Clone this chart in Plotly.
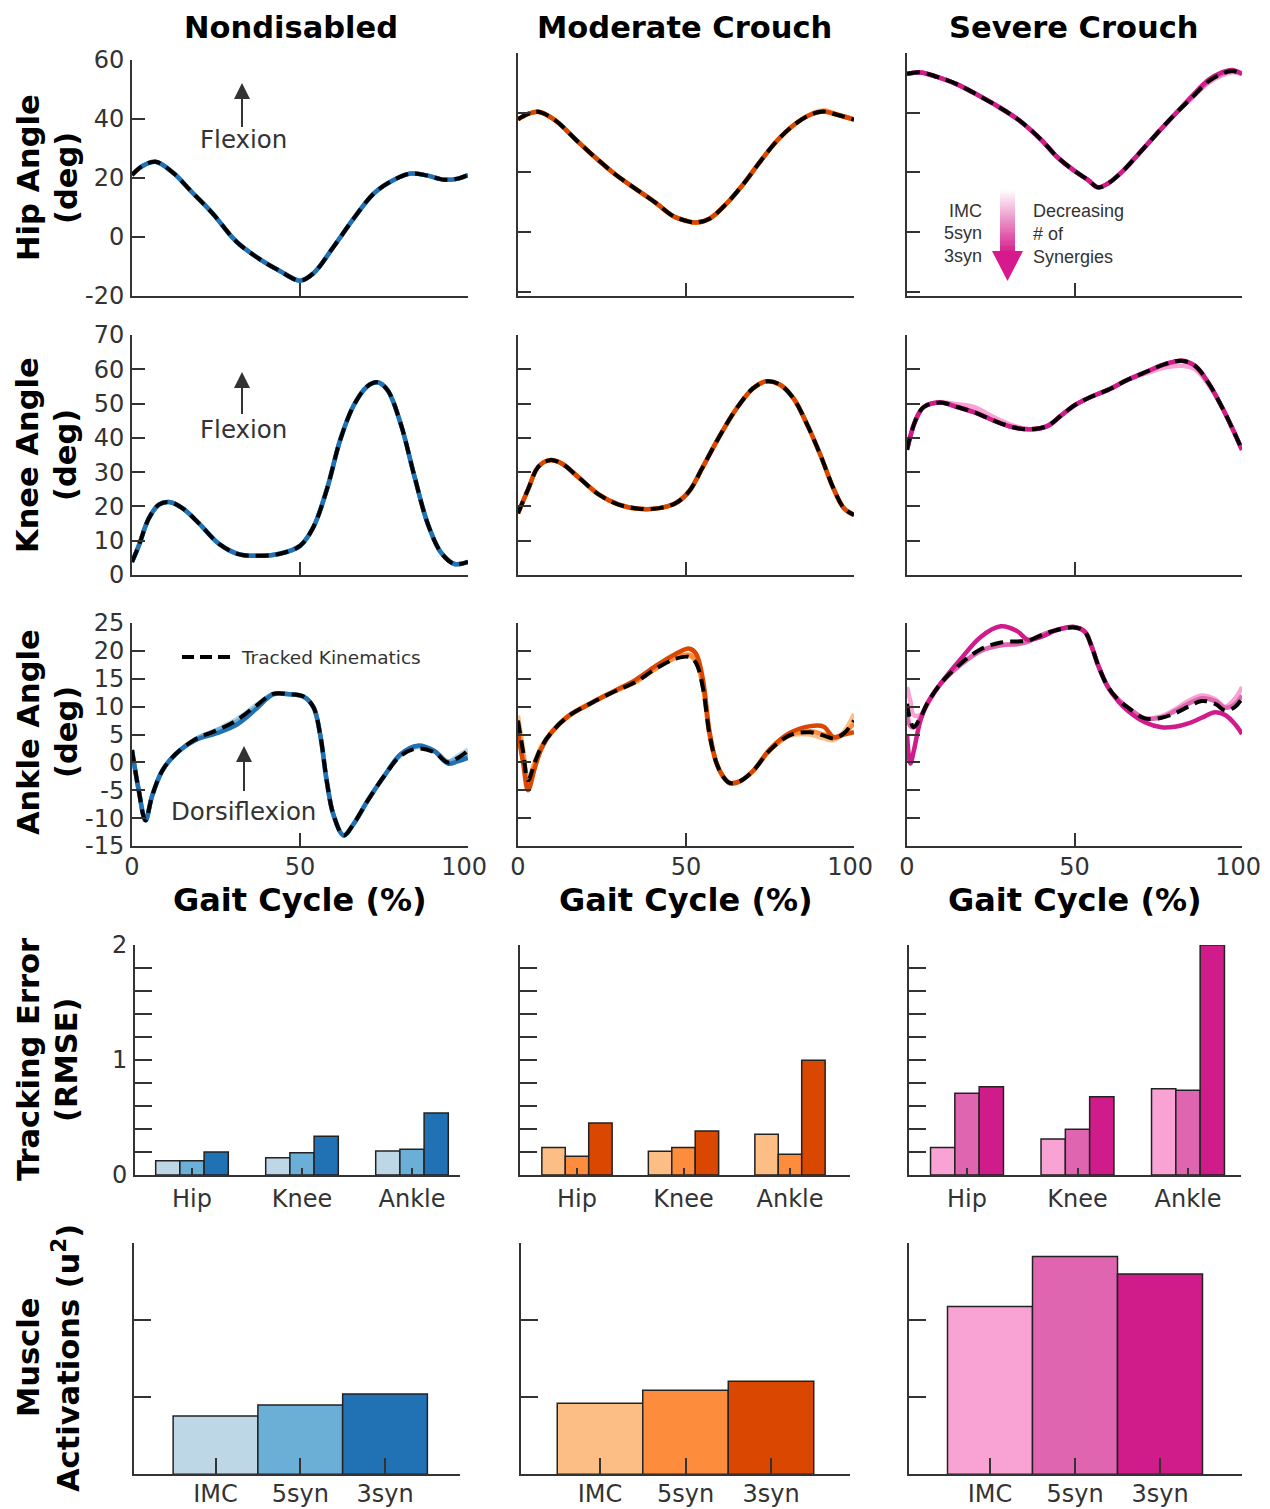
import plotly.graph_objects as go

# ---------------- data ----------------
methods = ["IMC", "5syn", "3syn"]
joints = ["Hip", "Knee", "Ankle"]
groups = ["Nondisabled", "Moderate Crouch", "Severe Crouch"]

blues = ["#bdd7e7", "#6baed6", "#2171b5"]
oranges = ["#fdbe85", "#fd8d3c", "#d94701"]
pinks = ["#f9a3d4", "#df65b0", "#d01c8b"]

# Nondisabled
nd_hip_x = [0, 3, 7, 12, 18, 24, 31, 38, 44, 50, 54, 60, 66, 72, 78, 83, 88, 93, 97, 100]
nd_hip_track = [21, 24, 25.5, 22, 15, 8, -1.5, -7.5, -11.5, -14.8, -12.3, -3.3, 6.3, 14.8, 19.4, 21.5, 20.8, 19.4, 19.8, 21]
nd_hip_imc = [21, 24, 25.5, 22, 15, 8, -1.5, -7.5, -11.5, -14.8, -12.3, -3.3, 6.3, 14.8, 19.4, 21.5, 20.8, 19.4, 19.8, 21]
nd_hip_5syn = [21, 24, 25.5, 22, 15, 8, -1.5, -7.5, -11.5, -14.8, -12.3, -3.3, 6.3, 14.8, 19.4, 21.5, 20.8, 19.4, 19.8, 21]
nd_hip_3syn = [21, 24, 25.5, 22, 15, 8, -1.5, -7.5, -11.5, -14.8, -12.3, -3.3, 6.3, 14.8, 19.4, 21.5, 20.8, 19.4, 19.8, 21]

nd_knee_x = [0, 2, 5, 8, 11, 15, 20, 26, 32, 38, 44, 50, 54, 58, 62, 66, 70, 73, 76, 80, 84, 88, 92, 96, 100]
nd_knee_track = [3.8, 8.5, 16.5, 20.5, 21.3, 19.5, 15, 9, 6, 5.6, 6.2, 8.5, 14, 25, 39.5, 49.5, 55, 56.2, 54, 44, 29, 15, 6.5, 3.2, 3.8]
nd_knee_imc = [3.8, 8.5, 16.5, 20.5, 21.3, 19.5, 15, 9, 6, 5.6, 6.2, 8.5, 14, 25, 39.5, 49.5, 55, 56.2, 54, 44, 29, 15, 6.5, 3.2, 3.8]
nd_knee_5syn = [3.8, 8.5, 16.5, 20.5, 21.3, 19.5, 15, 9, 6, 5.6, 6.2, 8.5, 14, 25, 39.5, 49.5, 55, 56.2, 54, 44, 29, 15, 6.5, 3.2, 3.8]
nd_knee_3syn = [3.8, 8.5, 16.5, 20.5, 21.3, 19.5, 15, 9, 6, 5.6, 6.2, 8.5, 14, 25, 39.5, 49.5, 55, 56.2, 54, 44, 29, 15, 6.5, 3.2, 3.8]

nd_ank_x = [0, 2, 4, 6, 9, 13, 19, 25, 31, 37, 42, 47, 51, 54, 56, 58, 60, 63, 66, 70, 75, 80, 85, 90, 94, 97, 100]
nd_ank_track = [2.2, -5, -10.4, -6, -1.5, 1.5, 4.2, 5.7, 7.5, 10.2, 12.3, 12.2, 11.8, 9.9, 5, -3.5, -9.5, -13.1, -11, -7, -2.5, 1.2, 2.5, 1.8, 0, 0.8, 2.1]
nd_ank_imc = [2.2, -5, -10.4, -6, -1.5, 1.5, 4.2, 5.8, 7.7, 10.3, 12.3, 12.2, 11.8, 9.9, 5, -3.5, -9.5, -13.1, -11, -7, -2.5, 1.3, 2.7, 2.0, 0.2, 1.2, 2.3]
nd_ank_5syn = [2.2, -5, -10.4, -6, -1.5, 1.5, 4.2, 5.7, 7.3, 10.0, 12.3, 12.2, 11.8, 9.9, 5, -3.5, -9.5, -13.1, -11, -7, -2.5, 1.4, 2.9, 2.1, 0.1, 0.8, 1.6]
nd_ank_3syn = [2.2, -5, -10.4, -6, -1.5, 1.5, 4.0, 5.2, 6.7, 9.6, 12.2, 12.2, 11.8, 9.9, 5, -3.5, -9.5, -13.1, -11, -7, -2.5, 1.5, 3.0, 2.0, -0.2, 0.2, 0.8]

# Moderate crouch
md_hip_x = [0, 3, 6, 11, 17, 23, 29, 35, 41, 46, 50, 53, 57, 62, 67, 72, 77, 82, 87, 91, 95, 100]
md_hip_track = [37.8, 39.6, 40.3, 37.5, 31.2, 25, 19.3, 14.5, 9.8, 5.5, 3.8, 3.2, 4.5, 9.5, 16, 23.5, 30.5, 35.8, 39.3, 40.4, 39.3, 37.7]
md_hip_imc = [37.8, 39.6, 40.3, 37.5, 31.2, 25, 19.3, 14.5, 9.8, 5.5, 3.8, 3.2, 4.5, 9.5, 16, 23.5, 30.5, 35.8, 39.5, 40.8, 39.5, 37.7]
md_hip_5syn = [37.8, 39.6, 40.3, 37.5, 31.2, 25, 19.3, 14.5, 9.8, 5.5, 3.8, 3.2, 4.5, 9.5, 16, 23.5, 30.5, 35.8, 39.3, 40.4, 39.3, 37.7]
md_hip_3syn = [37.8, 39.6, 40.3, 37.5, 31.2, 25, 19.3, 14.5, 9.8, 5.5, 3.8, 3.2, 4.5, 9.5, 16, 23.5, 30.5, 35.8, 39.3, 40.4, 39.3, 37.7]

md_knee_x = [0, 3, 6, 9.5, 13, 18, 24, 30, 36, 42, 47, 51, 55, 60, 65, 70, 74, 78, 82, 86, 90, 94, 97, 100]
md_knee_track = [18, 25, 31.5, 33.5, 32.5, 28.5, 23.5, 20.5, 19.3, 19.5, 21, 24.5, 31.5, 40.5, 48.5, 54.5, 56.5, 55.5, 51.5, 44, 35, 25, 19.5, 17.5]
md_knee_imc = [18, 25, 31.5, 33.5, 32.5, 28.5, 23.5, 20.5, 19.3, 19.5, 21, 24.5, 31.5, 40.5, 48.5, 54.5, 56.5, 55.5, 51.5, 44, 35, 25, 19.5, 17.5]
md_knee_5syn = [18, 25, 31.5, 33.5, 32.5, 28.5, 23.5, 20.5, 19.3, 19.5, 21, 24.5, 31.5, 40.5, 48.5, 54.5, 56.5, 55.5, 51.5, 44, 35, 25, 19.5, 17.5]
md_knee_3syn = [18, 25, 31.5, 33.5, 32.5, 28.5, 23.5, 20.5, 19.3, 19.5, 21, 24.5, 31.5, 40.5, 48.5, 54.5, 56.5, 55.5, 51.5, 44, 35, 25, 19.5, 17.5]

md_ank_x = [0, 1.5, 3, 5, 7, 10, 15, 22, 29, 35, 41, 47, 51, 53, 55, 57, 59, 61, 63, 66, 70, 75, 81, 87, 91, 94, 97, 100]
md_ank_track = [7.5, 2, -3.2, 0, 2.8, 5.4, 8.3, 10.7, 12.8, 14.4, 16.8, 18.6, 18.9, 17.8, 13.5, 5, 0, -2.5, -3.7, -3.4, -1.5, 2.2, 4.9, 5.4, 4.8, 4.3, 5.2, 7.5]
md_ank_imc = [8.4, 2.5, -3.0, 0.2, 2.9, 5.5, 8.4, 10.8, 12.9, 14.6, 17.0, 18.8, 19.1, 18.0, 13.7, 5, 0, -2.5, -3.7, -3.4, -1.5, 2.2, 4.8, 5.0, 4.3, 4.0, 5.5, 8.7]
md_ank_5syn = [7.0, 1.5, -3.5, -0.2, 2.8, 5.4, 8.3, 10.7, 12.8, 14.4, 16.8, 18.8, 19.3, 18.2, 13.8, 5, 0, -2.5, -3.7, -3.4, -1.5, 2.2, 4.9, 5.6, 5.0, 4.5, 5.2, 7.0]
md_ank_3syn = [5.1, 0, -5, -1, 2.5, 5.4, 8.3, 10.7, 12.9, 14.8, 17.3, 19.5, 20.4, 19.5, 15, 5.5, 0, -2.5, -3.7, -3.4, -1.5, 2.4, 5.3, 6.5, 6.4, 4.5, 5.0, 5.4]

# Severe crouch
sv_hip_x = [0, 4, 9, 15, 21, 28, 34, 40, 45, 50, 54, 57, 60, 64, 69, 75, 80, 85, 90, 94, 97, 100]
sv_hip_track = [53, 53.5, 52, 49.5, 46, 41.5, 37, 31, 25, 20.5, 17.5, 15, 16.3, 20, 26, 33.5, 39.5, 45, 50.5, 53, 54, 53]
sv_hip_imc = [53, 53.5, 52, 49.5, 46, 41.5, 37, 31, 25, 20.5, 17.5, 15, 16.3, 20, 26, 33.5, 39.5, 45, 50, 52.5, 53.5, 53]
sv_hip_5syn = [53, 53.5, 52, 49.5, 46, 41.5, 37, 31, 25, 20.5, 17.5, 15, 16.3, 20, 26, 33.5, 39.5, 45, 50.5, 53, 54, 53]
sv_hip_3syn = [53, 53.5, 52, 49.5, 46, 41.5, 37, 31, 25, 20.5, 17.5, 15, 16.3, 20, 26, 33.5, 39.5, 45.5, 51, 53.5, 54.3, 53]

sv_knee_x = [0, 2.5, 5, 10, 15, 20, 26, 32, 37, 42, 46, 50, 55, 60, 66, 72, 77, 82, 86, 90, 94, 97, 100]
sv_knee_track = [36.5, 45, 49, 50.3, 49, 47.5, 45, 43, 42.5, 43.5, 46.5, 49.5, 52, 54, 57, 59.5, 61.5, 62.5, 61, 56, 49, 43, 36.5]
sv_knee_imc = [36.5, 45, 49, 50.3, 49.8, 49, 46, 43.5, 42.5, 43.5, 46.5, 49.5, 52, 54, 57, 59, 60.5, 61, 60, 55.5, 49, 43, 36.5]
sv_knee_5syn = [36.5, 45, 49, 50.3, 49, 47.5, 45, 43, 42.5, 43.5, 46.5, 49.5, 52, 54, 57, 59.5, 61.5, 62.5, 61, 56, 49, 43, 36.5]
sv_knee_3syn = [36.5, 45, 49, 50.3, 49, 47.5, 45, 43, 42.5, 43.5, 46.5, 49.5, 52, 54, 57, 59.5, 61.5, 62.5, 61, 56, 49, 43, 36.5]

sv_ank_x = [0, 1, 2, 4, 6, 10, 16, 22, 28, 33, 36, 40, 45, 50, 53, 55, 57, 60, 63, 66, 71, 76, 80, 84, 88, 92, 95, 98, 100]
sv_ank_track = [10.5, 7.5, 6.3, 8, 10.5, 14.1, 17.7, 20.3, 21.5, 21.7, 21.8, 22.8, 23.8, 24.2, 23.5, 21, 17.5, 13.5, 11.3, 9.8, 7.9, 8, 8.8, 10, 11, 10.5, 9.3, 10, 11.5]
sv_ank_imc = [13.5, 11, 8.5, 8.5, 10.3, 14, 17.5, 20, 21, 21.3, 21.7, 22.8, 23.8, 24.2, 23.5, 21, 17.5, 13.5, 11.3, 9.8, 7.9, 8.3, 9.5, 11, 12, 11.3, 10, 11.5, 13.5]
sv_ank_5syn = [9, 6.5, 6.3, 8, 10.5, 14.1, 17.5, 20, 21, 21.2, 21.6, 22.8, 23.8, 24.2, 23.5, 21, 17.5, 13.5, 11.3, 9.8, 7.9, 8.1, 9.2, 10.5, 11.5, 11, 9.8, 10.5, 12]
sv_ank_3syn = [5.1, -0.2, 2, 7.5, 10.5, 14.1, 18.5, 22.5, 24.4, 23.5, 22, 22.5, 23.8, 24.3, 23.5, 21, 17.5, 13.5, 11, 9.2, 7.2, 6.3, 6.4, 7, 8, 9, 8.5, 6.8, 5.1]

# Tracking error (RMSE); each list = [Hip, Knee, Ankle]
nd_rmse_imc = [0.124, 0.15, 0.209]
nd_rmse_5syn = [0.124, 0.194, 0.223]
nd_rmse_3syn = [0.20, 0.336, 0.54]
md_rmse_imc = [0.24, 0.206, 0.354]
md_rmse_5syn = [0.163, 0.24, 0.18]
md_rmse_3syn = [0.452, 0.383, 0.997]
sv_rmse_imc = [0.24, 0.313, 0.75]
sv_rmse_5syn = [0.71, 0.397, 0.736]
sv_rmse_3syn = [0.768, 0.68, 2.0]

# Muscle activations (arbitrary units), [IMC, 5syn, 3syn]
nd_act = [0.757, 0.90, 1.043]
md_act = [0.922, 1.09, 1.21]
sv_act = [2.18, 2.83, 2.60]

# gait-cycle tick labels
gait_ticks = [0, 50, 100]
gait_text = ["0", "50", "100\u00a0"]

# ---------------- layout helpers ----------------
W, H, OFF = 1262, 1501, 8
FONT = "DejaVu Sans"
AX = "#333333"
TICK_SIZE = 24


def px(x):
    return (x - OFF) / W


def py(y):
    return 1 - (y - OFF) / H


fig = go.Figure()
axes = {}


def make_axes(i, xpx, ypx, xr, yr, xt, yt, xlab, ylab, xtl, ytl,
              xtext=None, ytext=None, xcat=False, yminor=None, xstand=0):
    xn = "xaxis" if i == 1 else f"xaxis{i}"
    yn = "yaxis" if i == 1 else f"yaxis{i}"
    xid = "x" if i == 1 else f"x{i}"
    yid = "y" if i == 1 else f"y{i}"
    tf = dict(family=FONT, size=TICK_SIZE, color=AX)
    xa = dict(domain=[px(xpx[0]), px(xpx[1])], range=xr, anchor=yid,
              showline=True, linecolor=AX, linewidth=2, ticks="inside",
              ticklen=xtl, tickwidth=2, tickcolor=AX, tickvals=xt,
              showticklabels=xlab, showgrid=False, zeroline=False,
              tickfont=tf, ticklabelstandoff=xstand, automargin=False,
              ticklabeloverflow="allow")
    if xtext is not None:
        xa["ticktext"] = xtext
    if xcat:
        xa["type"] = "category"
    ya = dict(domain=[py(ypx[1]), py(ypx[0])], range=yr, anchor=xid,
              showline=True, linecolor=AX, linewidth=2, ticks="inside",
              ticklen=ytl, tickwidth=2, tickcolor=AX, tickvals=yt,
              showticklabels=ylab, showgrid=False, zeroline=False,
              tickfont=tf, ticklabelstandoff=1, automargin=False,
              ticklabeloverflow="allow")
    if ytext is not None:
        ya["ticktext"] = ytext
    if yminor is not None:
        ya["minor"] = dict(dtick=yminor, tick0=0, ticks="inside", ticklen=ytl,
                           tickwidth=2, tickcolor=AX, showgrid=False)
    axes[xn] = xa
    axes[yn] = ya
    return xid, yid


col_x = [(132, 468), (518, 854), (907, 1242)]
kin_rows = [
    dict(ypx=[(60, 296), (53, 296), (53, 296)],
         yr=[[-20, 60], [-21.4, 60], [-21.4, 60]],
         yt=[-20, 0, 20, 40, 60]),
    dict(ypx=[(335, 575), (335, 575), (335, 575)],
         yr=[[0, 70], [0, 70], [0, 70]],
         yt=[0, 10, 20, 30, 40, 50, 60, 70]),
    dict(ypx=[(623, 846), (623, 846), (623, 846)],
         yr=[[-15, 25], [-15, 25], [-15, 25]],
         yt=[-15, -10, -5, 0, 5, 10, 15, 20, 25]),
]

kin_data = [
    [(nd_hip_x, nd_hip_imc, nd_hip_5syn, nd_hip_3syn, nd_hip_track),
     (md_hip_x, md_hip_imc, md_hip_5syn, md_hip_3syn, md_hip_track),
     (sv_hip_x, sv_hip_imc, sv_hip_5syn, sv_hip_3syn, sv_hip_track)],
    [(nd_knee_x, nd_knee_imc, nd_knee_5syn, nd_knee_3syn, nd_knee_track),
     (md_knee_x, md_knee_imc, md_knee_5syn, md_knee_3syn, md_knee_track),
     (sv_knee_x, sv_knee_imc, sv_knee_5syn, sv_knee_3syn, sv_knee_track)],
    [(nd_ank_x, nd_ank_imc, nd_ank_5syn, nd_ank_3syn, nd_ank_track),
     (md_ank_x, md_ank_imc, md_ank_5syn, md_ank_3syn, md_ank_track),
     (sv_ank_x, sv_ank_imc, sv_ank_5syn, sv_ank_3syn, sv_ank_track)],
]
palettes = [blues, oranges, pinks]

idx = 1
for r in range(3):
    for c in range(3):
        row = kin_rows[r]
        ytext = [str(v) for v in row["yt"]]
        xid, yid = make_axes(
            idx, col_x[c], row["ypx"][c], [0, 100], row["yr"][c],
            gait_ticks, row["yt"], r == 2, c == 0, 13, 13,
            xtext=gait_text, ytext=ytext, xstand=-2)
        xs, imc, s5, s3, tr = kin_data[r][c]
        for k, ys in enumerate([imc, s5, s3]):
            fig.add_trace(go.Scatter(
                x=xs, y=ys, mode="lines", xaxis=xid, yaxis=yid,
                line=dict(color=palettes[c][k], width=4.5, shape="spline", smoothing=1.0),
                showlegend=False, hoverinfo="skip"))
        fig.add_trace(go.Scatter(
            x=xs, y=tr, mode="lines", xaxis=xid, yaxis=yid,
            line=dict(color="black", width=4, dash="13px,7px", shape="spline", smoothing=1.0),
            showlegend=False, hoverinfo="skip"))
        idx += 1

# Tracking error bars
rmse = [(nd_rmse_imc, nd_rmse_5syn, nd_rmse_3syn),
        (md_rmse_imc, md_rmse_5syn, md_rmse_3syn),
        (sv_rmse_imc, sv_rmse_5syn, sv_rmse_3syn)]
bar4 = [dict(x=(135, 460), c0=192, sp=110),
        dict(x=(520, 850), c0=577, sp=106.5),
        dict(x=(909, 1241), c0=967, sp=110.5)]
for c in range(3):
    g = bar4[c]
    xr = [-(g["c0"] - g["x"][0]) / g["sp"], (g["x"][1] - g["c0"]) / g["sp"]]
    xid, yid = make_axes(idx, g["x"], (945, 1175), xr, [0, 2], joints,
                         [0, 1, 2], True, c == 0, 7, 17,
                         ytext=["0", "1", "2"], xcat=True, yminor=0.2, xstand=1)
    for k in range(3):
        fig.add_trace(go.Bar(
            x=joints, y=rmse[c][k], width=0.22, offset=-0.33 + 0.22 * k,
            marker=dict(color=palettes[c][k], line=dict(color="#222222", width=1.5)),
            xaxis=xid, yaxis=yid, showlegend=False, hoverinfo="skip"))
    idx += 1

# Muscle activation bars
acts = [nd_act, md_act, sv_act]
bar5 = [dict(x=(134, 460), c0=215.5, sp=84.75),
        dict(x=(520.7, 850), c0=600, sp=85.5),
        dict(x=(909, 1242), c0=990, sp=85)]
for c in range(3):
    g = bar5[c]
    xr = [-(g["c0"] - g["x"][0]) / g["sp"], (g["x"][1] - g["c0"]) / g["sp"]]
    xid, yid = make_axes(idx, g["x"], (1243.3, 1474.3), xr, [0, 3], methods,
                         [0, 1, 2, 3], True, False, 16, 17, xcat=True, xstand=-3)
    fig.add_trace(go.Bar(
        x=methods, y=acts[c], width=1.0, offset=-0.5,
        marker=dict(color=palettes[c], line=dict(color="#222222", width=1.5)),
        xaxis=xid, yaxis=yid, showlegend=False, hoverinfo="skip"))
    idx += 1

# ---------------- annotations ----------------
ann = []


def text(x, y, s, size, bold=False, color="#333333", family=FONT,
         xanchor="center", angle=0):
    ann.append(dict(x=px(x), y=py(y), xref="paper", yref="paper",
                    text=f"<b>{s}</b>" if bold else s, showarrow=False,
                    xanchor=xanchor, yanchor="middle", textangle=angle,
                    font=dict(family=family, size=size, color=color)))


for cx, t in zip([291, 684, 1073], groups):
    text(cx, 28, t, 30.5, bold=True, color="black")
for cx in [300, 686, 1075]:
    text(cx, 900, "Gait Cycle (%)", 32, bold=True, color="black")

ytitles = [(178, "Hip Angle", "(deg)"), (455, "Knee Angle", "(deg)"),
           (732, "Ankle Angle", "(deg)"), (1060, "Tracking Error", "(RMSE)"),
           (1358, "Muscle", "Activations (u<sup>2</sup>)")]
for yc, l1, l2 in ytitles:
    text(28, yc, l1, 30.5, bold=True, color="black", angle=-90)
    text(66, yc, l2, 30.5, bold=True, color="black", angle=-90)

text(243, 140, "Flexion", 24.5)
text(243, 429, "Flexion", 24.5)
text(244, 811, "Dorsiflexion", 24.5)
text(239, 657, "Tracked Kinematics", 18.5, xanchor="left")

SF = "Liberation Sans"
for yy, s in zip([211, 233, 256], ["IMC", "5syn", "3syn"]):
    text(984, yy, s, 18, family=SF, xanchor="right")
for yy, s in zip([211, 234, 257], ["Decreasing", "# of", "Synergies"]):
    text(1031, yy, s, 18, family=SF, xanchor="left")

# ---------------- shapes (arrows, legend line) ----------------
shapes = []


def pline(x0, y0, x1, y1, color, width, dash="solid"):
    shapes.append(dict(type="line", xref="paper", yref="paper",
                       x0=px(x0), y0=py(y0), x1=px(x1), y1=py(y1),
                       line=dict(color=color, width=width, dash=dash)))


def tri(xc, ybase, ytip, half, color):
    shapes.append(dict(type="path", xref="paper", yref="paper",
                       path=f"M {px(xc - half)},{py(ybase)} L {px(xc + half)},{py(ybase)} L {px(xc)},{py(ytip)} Z",
                       fillcolor=color, line=dict(width=0)))


for xc, tip, base, tail in [(242, 83, 99, 127), (242, 372, 388, 414), (244, 746, 762, 791)]:
    pline(xc, base, xc, tail, AX, 2)
    tri(xc, base, tip, 8, AX)

pline(182, 657, 232, 657, "black", 4, "12px,6px")

# gradient arrow
top, bot = 190, 252
n = 24
c1 = (255, 255, 255)
c2 = (214, 30, 140)
for i in range(n):
    t = (i + 0.5) / n
    col = tuple(int(round(c1[j] + (c2[j] - c1[j]) * t)) for j in range(3))
    y0 = top + (bot - top) * i / n
    y1 = top + (bot - top) * (i + 1) / n + 0.5
    shapes.append(dict(type="rect", xref="paper", yref="paper",
                       x0=px(1000), x1=px(1015), y0=py(y1), y1=py(y0),
                       fillcolor=f"rgb{col}", line=dict(width=0)))
tri(1007.5, 251, 281, 15.5, "rgb(214,25,140)")

fig.update_layout(
    width=W, height=H, margin=dict(l=0, r=0, t=0, b=0, autoexpand=False),
    paper_bgcolor="white", plot_bgcolor="white",
    barmode="overlay", showlegend=False,
    font=dict(family=FONT, color=AX),
    annotations=ann, shapes=shapes, **axes)

fig.write_html("out.html")
